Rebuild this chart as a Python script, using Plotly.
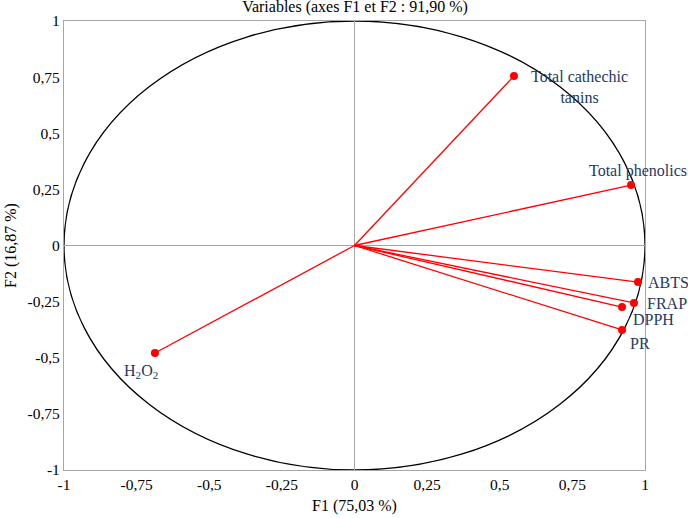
import plotly.graph_objects as go

# PCA correlation circle: variables on F1 / F2
variables = ["Total cathechic<br>tanins", "Total phenolics", "ABTS", "FRAP", "DPPH", "PR", "H<sub>2</sub>O<sub>2</sub>"]
f1 = [0.549, 0.952, 0.976, 0.962, 0.921, 0.921, -0.687]
f2 = [0.755, 0.269, -0.163, -0.256, -0.274, -0.376, -0.479]

tick_vals = [-1, -0.75, -0.5, -0.25, 0, 0.25, 0.5, 0.75, 1]
tick_text = ["-1", "-0,75", "-0,5", "-0,25", "0", "0,25", "0,5", "0,75", "1"]

# label offsets in pixels (xshift, yshift)
label_shift = [(15, -11), (-44, 14), (8, 0), (11, -1), (9, -12), (6, -14), (-33, -18)]

RED = "#ff0000"
NAVY = "#1f3864"
GRID = "#a6a6a6"
FONT = "Liberation Serif"

fig = go.Figure()
for x, y in zip(f1, f2):
    fig.add_trace(
        go.Scatter(
            x=[0, x],
            y=[0, y],
            mode="lines",
            line=dict(color=RED, width=1.3),
            showlegend=False,
            hoverinfo="skip",
        )
    )
fig.add_trace(
    go.Scatter(
        x=f1,
        y=f2,
        mode="markers",
        marker=dict(color=RED, size=8),
        showlegend=False,
    )
)

for name, x, y, (dx, dy) in zip(variables, f1, f2, label_shift):
    fig.add_annotation(
        x=x,
        y=y,
        text=name,
        showarrow=False,
        xanchor="left",
        yanchor="middle",
        align="center",
        xshift=dx,
        yshift=dy,
        font=dict(family=FONT, size=16, color=NAVY),
    )

fig.add_shape(
    type="circle",
    xref="x",
    yref="y",
    x0=-1,
    y0=-1,
    x1=1,
    y1=1,
    line=dict(color="black", width=1.3),
    layer="below",
)

axis_style = dict(
    range=[-1, 1],
    tickvals=tick_vals,
    ticktext=tick_text,
    showgrid=False,
    zeroline=True,
    zerolinecolor=GRID,
    zerolinewidth=1.2,
    showline=True,
    linecolor=GRID,
    linewidth=1.2,
    mirror=True,
    ticks="",
    automargin=False,
    tickfont=dict(family=FONT, size=15.5, color="black"),
)

fig.update_xaxes(
    **axis_style,
    title=dict(text="F1 (75,03 %)", font=dict(family=FONT, size=16, color="black"), standoff=8),
)
fig.update_yaxes(
    **axis_style,
    title=dict(text="F2 (16,87 %)", font=dict(family=FONT, size=16, color="black"), standoff=6),
)

fig.update_layout(
    title=dict(
        text="Variables (axes F1 et F2 : 91,90 %)",
        x=0.516,
        xanchor="center",
        y=0.999,
        yanchor="top",
        font=dict(family=FONT, size=16, color="black"),
    ),
    width=688,
    height=518,
    plot_bgcolor="white",
    paper_bgcolor="white",
    margin=dict(l=64, r=43, t=21, b=48),
)

fig.write_html(
    "out.html",
    config={"displayModeBar": False},
    post_script="document.body.style.margin='0';",
)
